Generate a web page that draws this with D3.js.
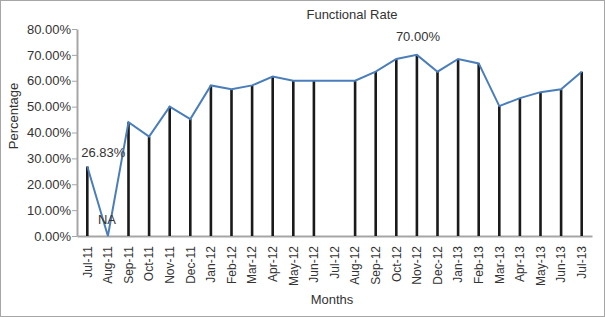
<!DOCTYPE html>
<html>
<head>
<meta charset="utf-8">
<script src="https://cdn.jsdelivr.net/npm/d3@7"></script>
<style>
  body { margin: 0; background: #fff; }
  svg { font-family: "Liberation Sans", Arial, sans-serif; }
</style>
</head>
<body>
<svg id="chart"></svg>
<script>
const months = ['Jul-11','Aug-11','Sep-11','Oct-11','Nov-11','Dec-11','Jan-12','Feb-12','Mar-12','Apr-12','May-12','Jun-12',
                'Jul-12','Aug-12','Sep-12','Oct-12','Nov-12','Dec-12','Jan-13','Feb-13','Mar-13','Apr-13','May-13','Jun-13','Jul-13'];
// bars (Jul-12 has no bar)
const barValues = [26.83, 0, 44.0, 38.4, 50.0, 45.2, 58.2, 56.7, 58.2, 61.6, 60.0, 60.0,
                   null, 60.0, 63.5, 68.4, 70.0, 63.5, 68.4, 66.7, 50.2, 53.3, 55.6, 56.7, 63.5];
const lineValues = [26.83, 0, 44.0, 38.4, 50.0, 45.2, 58.2, 56.7, 58.2, 61.6, 60.0, 60.0,
                    60.0, 60.0, 63.5, 68.4, 70.0, 63.5, 68.4, 66.7, 50.2, 53.3, 55.6, 56.7, 63.5];
const yTicks = [0, 10, 20, 30, 40, 50, 60, 70, 80];
const labels = [{i: 0, text: '26.83%', dx: -6, dy: -10}, {i: 1, text: 'NA', dx: -10, dy: -12}, {i: 16, text: '70.00%', dx: -21, dy: -14}];

const width = 605, height = 317;
const margin = {top: 29, right: 13, bottom: 81, left: 77};
const innerW = width - margin.left - margin.right;
const innerH = height - margin.top - margin.bottom;

const svg = d3.select('#chart').attr('width', width).attr('height', height);

svg.append('rect')
    .attr('x', 0.5).attr('y', 0.5)
    .attr('width', width - 1).attr('height', height - 1)
    .attr('fill', 'none').attr('stroke', '#a6a6a6');

const chart = svg.append('g').attr('transform', `translate(${margin.left}, ${margin.top})`);

const xscale = d3.scaleBand().domain(months).range([0, innerW]);
const yscale = d3.scaleLinear().domain([0, 80]).range([innerH, 0]);
const cx = d => xscale(d) + xscale.bandwidth() / 2;

// y axis
const yaxis = d3.axisLeft(yscale).tickValues(yTicks).tickSize(5).tickSizeOuter(0)
    .tickFormat(d => d.toFixed(2) + '%');
const yg = chart.append('g').call(yaxis);
yg.select('.domain').attr('stroke', '#a6a6a6').attr('stroke-width', 2);
yg.selectAll('.tick line').attr('stroke', '#a6a6a6');
yg.selectAll('.tick text').attr('fill', '#333').style('font-size', '13px').attr('x', -6);

// x axis
const xaxis = d3.axisBottom(xscale).tickSize(0).tickSizeOuter(0);
const xg = chart.append('g').attr('transform', `translate(0, ${innerH})`).call(xaxis);
xg.select('.domain').attr('stroke', '#a6a6a6').attr('stroke-width', 2);
xg.selectAll('.tick text')
    .attr('fill', '#333').style('font-size', '12px')
    .attr('transform', 'rotate(-90)')
    .attr('text-anchor', 'end')
    .attr('x', -10).attr('y', 0).attr('dy', '0.35em');

// bars
chart.append('g').selectAll('.bar')
    .data(months.map((m, i) => ({m, v: barValues[i]})).filter(d => d.v !== null && d.v > 0))
    .join('rect')
    .attr('class', 'bar')
    .attr('x', d => cx(d.m) - 1.3)
    .attr('width', 2.6)
    .attr('y', d => yscale(d.v))
    .attr('height', d => innerH - yscale(d.v))
    .attr('fill', '#1a1a1a');

// line
const line = d3.line().x(d => cx(d.m)).y(d => yscale(d.v));
chart.append('path')
    .datum(months.map((m, i) => ({m, v: lineValues[i]})))
    .attr('d', line)
    .attr('fill', 'none')
    .attr('stroke', '#4a7ebb')
    .attr('stroke-width', 2);

// data labels
chart.selectAll('.lbl')
    .data(labels)
    .join('text')
    .attr('x', d => cx(months[d.i]) + d.dx)
    .attr('y', d => yscale(lineValues[d.i]) + d.dy)
    .attr('fill', '#333')
    .style('font-size', '13px')
    .text(d => d.text);

// titles
svg.append('text')
    .attr('x', 352).attr('y', 19)
    .attr('text-anchor', 'middle')
    .attr('fill', '#333').style('font-size', '13px')
    .text('Functional Rate');

svg.append('text')
    .attr('x', 332).attr('y', 304)
    .attr('text-anchor', 'middle')
    .attr('fill', '#333').style('font-size', '13px')
    .text('Months');

svg.append('text')
    .attr('transform', 'rotate(-90)')
    .attr('x', -116).attr('y', 18)
    .attr('text-anchor', 'middle')
    .attr('fill', '#333').style('font-size', '13px')
    .text('Percentage');
</script>
</body>
</html>
